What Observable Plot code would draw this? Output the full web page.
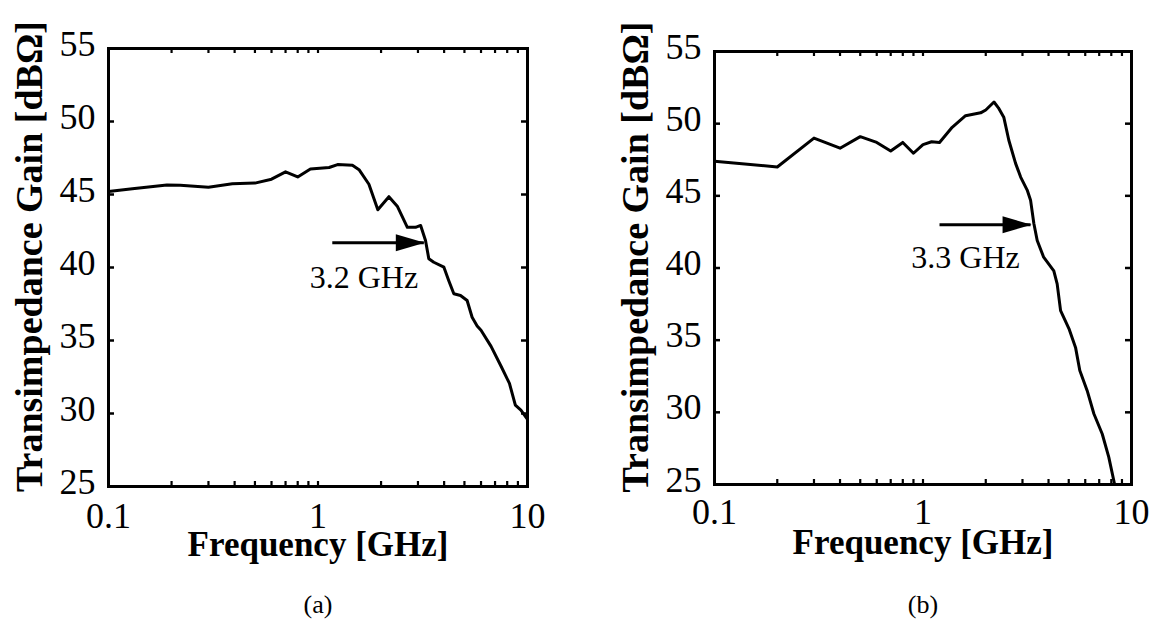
<!DOCTYPE html>
<html><head><meta charset="utf-8">
<script src="https://cdn.jsdelivr.net/npm/d3@7"></script>
<script src="https://cdn.jsdelivr.net/npm/@observablehq/plot@0.6"></script>
<style>
body{margin:0;background:#fff;}
#wrap{position:relative;width:1155px;height:629px;overflow:hidden;background:#fff;}
#a{position:absolute;left:0;top:0;}
#b{position:absolute;left:577px;top:0;}
</style></head><body><div id="wrap"><div id="a"></div><div id="b"></div></div>
<script>
// Panel (a) measured curve
const freqA = [0.1, 0.13, 0.19, 0.22, 0.3, 0.39, 0.5, 0.6, 0.7, 0.8, 0.92, 1.13, 1.24, 1.46, 1.57, 1.75, 1.93, 2.18, 2.39, 2.67, 2.92, 3.09, 3.26, 3.38, 3.57, 3.99, 4.21, 4.45, 4.79, 5.15, 5.44, 5.75, 6.0, 6.7, 7.5, 8.2, 8.75, 9.3, 10];
const gainA = [45.2, 45.4, 45.65, 45.63, 45.5, 45.73, 45.78, 46.05, 46.55, 46.2, 46.75, 46.85, 47.05, 47.0, 46.7, 45.7, 43.95, 44.85, 44.2, 42.75, 42.75, 42.88, 41.85, 40.6, 40.36, 40.02, 39.1, 38.2, 38.08, 37.74, 36.59, 36.0, 35.7, 34.6, 33.2, 32.06, 30.57, 30.23, 29.6];
// Panel (b) measured curve
const freqB = [0.1, 0.2, 0.3, 0.4, 0.5, 0.6, 0.7, 0.8, 0.9, 1.0, 1.1, 1.2, 1.38, 1.6, 1.89, 2.0, 2.19, 2.3, 2.44, 2.58, 2.78, 2.94, 3.16, 3.28, 3.4, 3.53, 3.79, 4.24, 4.4, 4.57, 5.01, 5.39, 5.65, 6.13, 6.6, 7.24, 7.78, 8.3];
const gainB = [47.4, 47.0, 49.0, 48.3, 49.1, 48.7, 48.1, 48.7, 47.95, 48.55, 48.75, 48.7, 49.75, 50.55, 50.75, 50.95, 51.5, 51.1, 50.45, 48.85, 47.25, 46.3, 45.4, 44.7, 43.1, 41.9, 40.75, 39.8, 38.9, 37.05, 35.8, 34.5, 32.9, 31.5, 29.9, 28.5, 26.9, 25.0];

const xTickValues = [0.1, 1, 10];
const xTickLabels = ["0.1", "1", "10"];
const xMinorTicks = [0.2, 0.3, 0.4, 0.5, 0.6, 0.7, 0.8, 0.9, 1, 2, 3, 4, 5, 6, 7, 8, 9];
const yTickValues = [25, 30, 35, 40, 45, 50, 55];
const xTitle = "Frequency [GHz]";
const yTitle = "Transimpedance Gain [dBΩ]";
const panelLabels = ["(a)", "(b)"];

// Bandwidth annotations
const arrowFrom = [1.17, 1.2];
const arrowTo = [3.2, 3.28];
const arrowGain = [41.7, 43.0];
const arrowLabels = ["3.2 GHz", "3.3 GHz"];
const labelFreq = [1.656, 1.6];
const labelGain = [39.3, 40.7];

const headSymbol = {
  draw(ctx) {
    ctx.moveTo(1, 0);
    ctx.lineTo(-28, -8.5);
    ctx.lineTo(-28, 8.5);
    ctx.closePath();
  }
};

function panel(i, L) {
  const freq = i === 0 ? freqA : freqB;
  const gain = i === 0 ? gainA : gainB;
  const data = freq.map((f, k) => ({f, g: gain[k]}));
  const innerW = L.width - L.ml - L.mr;
  const innerH = L.height - L.mt - L.mb;
  const arrow = [{from: arrowFrom[i], to: arrowTo[i], g: arrowGain[i], label: arrowLabels[i], lf: labelFreq[i], lg: labelGain[i]}];
  return Plot.plot({
    width: L.width, height: L.height,
    marginLeft: L.ml, marginRight: L.mr, marginTop: L.mt, marginBottom: L.mb,
    x: {type: "log", domain: [0.1, 10], axis: null},
    y: {domain: [25, 55], axis: null},
    style: {fontFamily: "'Liberation Serif', 'Times New Roman', serif", background: "white", overflow: "visible", color: "black"},
    marks: [
      Plot.tickX(xMinorTicks, {x: d => d, insetTop: innerH - 5, strokeWidth: 2.2}),
      Plot.tickX(xMinorTicks, {x: d => d, insetBottom: innerH - 5, strokeWidth: 2.2}),
      Plot.tickY(yTickValues.slice(1, -1), {y: d => d, insetRight: innerW - 6, strokeWidth: 2.5}),
      Plot.tickY(yTickValues.slice(1, -1), {y: d => d, insetLeft: innerW - 6, strokeWidth: 2.5}),
      Plot.line(data, {x: "f", y: "g", stroke: "black", strokeWidth: 3, strokeLinejoin: "round"}),
      Plot.frame({stroke: "black", strokeWidth: 3}),
      Plot.link(arrow, {x1: "from", x2: "to", y1: "g", y2: "g", stroke: "black", strokeWidth: 3}),
      Plot.dot(arrow, {x: "to", y: "g", symbol: headSymbol, fill: "black", stroke: "none"}),
      Plot.text(arrow, {x: "lf", y: "lg", text: "label", fontSize: 32, lineAnchor: "middle", textAnchor: "middle"}),
      Plot.text(yTickValues, {y: d => d, text: d => String(d), frameAnchor: "left", textAnchor: "end", lineAnchor: "middle", dx: -13, dy: -4.5, fontSize: 36}),
      Plot.text(xTickValues, {x: d => d, text: (d, k) => xTickLabels[k], frameAnchor: "bottom", textAnchor: "middle", lineAnchor: "middle", dy: L.tdy, fontSize: 36}),
      Plot.text([xTitle], {frameAnchor: "bottom", textAnchor: "middle", lineAnchor: "middle", dy: 57.8, fontSize: 35, fontWeight: "bold"}),
      Plot.text([yTitle], {frameAnchor: "left", textAnchor: "middle", lineAnchor: "middle", rotate: -90, dx: -78.5, dy: -11, fontSize: 38, fontWeight: "bold"}),
      Plot.text([panelLabels[i]], {frameAnchor: "bottom", textAnchor: "middle", lineAnchor: "middle", dy: L.cdy, fontSize: 26})
    ]
  });
}

document.getElementById("a").appendChild(panel(0, {width: 577, height: 629, ml: 108, mr: 50, mt: 48, mb: 143, tdy: 29.5, cdy: 118}));
document.getElementById("b").appendChild(panel(1, {width: 578, height: 629, ml: 137, mr: 24, mt: 51, mb: 145, tdy: 27.8, cdy: 120}));
</script>
</body></html>
